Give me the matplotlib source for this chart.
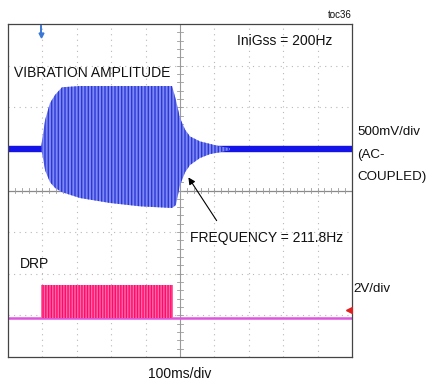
import matplotlib
matplotlib.use("Agg")
import matplotlib.pyplot as plt

W, H = 430, 381

# ---------------- data ----------------
# time axis: 100 ms/div, 10 divisions
time_span_ms = [0, 1000]
# Channel 1 (vibration amplitude), 500 mV/div, trace offset +1 div
ch1_scale_v_per_div = 0.5
ch1_offset_div = 1.0
env_t_ms = [96, 99, 108, 122, 137, 157, 209, 297, 384, 477, 488, 500, 515, 529, 558, 587, 616, 645]
env_upper_v = [0.0, 0.10, 0.35, 0.55, 0.65, 0.74, 0.755, 0.755, 0.755, 0.755, 0.59, 0.37, 0.23, 0.15, 0.09, 0.06, 0.03, 0.01]
env_lower_v = [0.0, -0.05, -0.26, -0.40, -0.47, -0.52, -0.59, -0.65, -0.69, -0.71, -0.675, -0.435, -0.28, -0.195, -0.11, -0.063, -0.04, -0.015]
ch1_baseline_t = [0, 1000]
ch1_baseline_v = [0.0, 0.0]

# Channel 2 (DRP), 2 V/div, trace offset -3.07 div
ch2_scale_v_per_div = 2.0
ch2_offset_div = -3.07
drp_t_ms = [96, 480]
drp_high_v = [1.6, 1.6]
drp_low_v = [0.0, 0.0]
drp_baseline_t = [0, 1000]
drp_baseline_v = [0.0, 0.0]

trigger_t_ms = 96
arrow_tip = (520, 0.37)      # (ms, div)
arrow_tail = (611, -0.78)

# ---------------- style ----------------
plt.rcParams['font.family'] = ['Liberation Sans', 'DejaVu Sans']
plt.rcParams['hatch.linewidth'] = 1.0

fig = plt.figure(figsize=(W / 100, H / 100), dpi=100)
fig.patch.set_facecolor('white')
ax = fig.add_axes([8 / W, (H - 357) / H, 344 / W, 333 / H])
ax.set_xlim(*time_span_ms)
ax.set_ylim(-4, 4)
ax.set_xticks([])
ax.set_yticks([])
for s in ax.spines.values():
    s.set_color('#444444')
    s.set_linewidth(0.9)

# graticule
for i in range(1, 10):
    if i != 5:
        ax.axvline(i * 100, color='#b8b8b8', lw=0.8, ls=(0, (1, 4)), zorder=0)
for j in range(-3, 4):
    if j != 0:
        ax.axhline(j, color='#b8b8b8', lw=0.8, ls=(0, (1, 4)), zorder=0)
ax.axvline(500, color='#9a9a9a', lw=0.8, zorder=0)
ax.axhline(0, color='#8a8a8a', lw=0.9, zorder=0)
for k in range(1, 50):
    ax.plot([k * 20, k * 20], [-0.06, 0.06], color='#9a9a9a', lw=0.6, zorder=0)
for k in range(-19, 20):
    ax.plot([490, 510], [k * 0.2, k * 0.2], color='#9a9a9a', lw=0.6, zorder=0)

def c1(v):
    return [x / ch1_scale_v_per_div + ch1_offset_div for x in v]

def c2(v):
    return [x / ch2_scale_v_per_div + ch2_offset_div for x in v]

# channel 1
ax.plot(ch1_baseline_t, c1(ch1_baseline_v), color='#1414e8', lw=4.6, solid_capstyle='butt', zorder=2)
ax.fill_between(env_t_ms, c1(env_lower_v), c1(env_upper_v), facecolor='#7d88f2',
                edgecolor='#2b37d8', hatch='|||||', linewidth=0, zorder=3)

# channel 2
ax.plot(drp_baseline_t, c2(drp_baseline_v), color='#dd55dd', lw=1.8, zorder=2)
ax.fill_between(drp_t_ms, c2(drp_low_v), c2(drp_high_v), facecolor='#ff6aa8',
                edgecolor='#ff0a6a', hatch='||||||', linewidth=0, zorder=3)

# markers
ax.plot([trigger_t_ms, trigger_t_ms], [3.95, 3.78], color='#3a78d8', lw=1.4, zorder=4)
ax.plot([trigger_t_ms], [3.74], marker='v', ms=3.5, color='#3a78d8', zorder=4)
ax.plot([991], [-2.87], marker='<', ms=4, color='#e02020', zorder=4)

ax.annotate('', xy=arrow_tip, xytext=arrow_tail,
            arrowprops=dict(arrowstyle='-|>', color='black', lw=0.8, mutation_scale=10), zorder=5)

def ftxt(x, y, s, size=10, **kw):
    fig.text(x / W, 1 - y / H, s, fontsize=size, va='baseline', color='#111111', **kw)

ftxt(352, 18.3, 'toc36', size=7, ha='right')
ftxt(237, 45, 'IniGss = 200Hz')
ftxt(14, 77.3, 'VIBRATION AMPLITUDE')
ftxt(357, 135, '500mV/div', size=9.6)
ftxt(357, 158, '(AC-', size=9.6)
ftxt(357, 180, 'COUPLED)', size=9.6)
ftxt(190, 241.7, 'FREQUENCY = 211.8Hz')
ftxt(20, 268, 'DRP')
ftxt(353, 291.7, '2V/div', size=9.6)
ftxt(180, 378, '100ms/div', ha='center')

fig.savefig('out.png', dpi=100)
